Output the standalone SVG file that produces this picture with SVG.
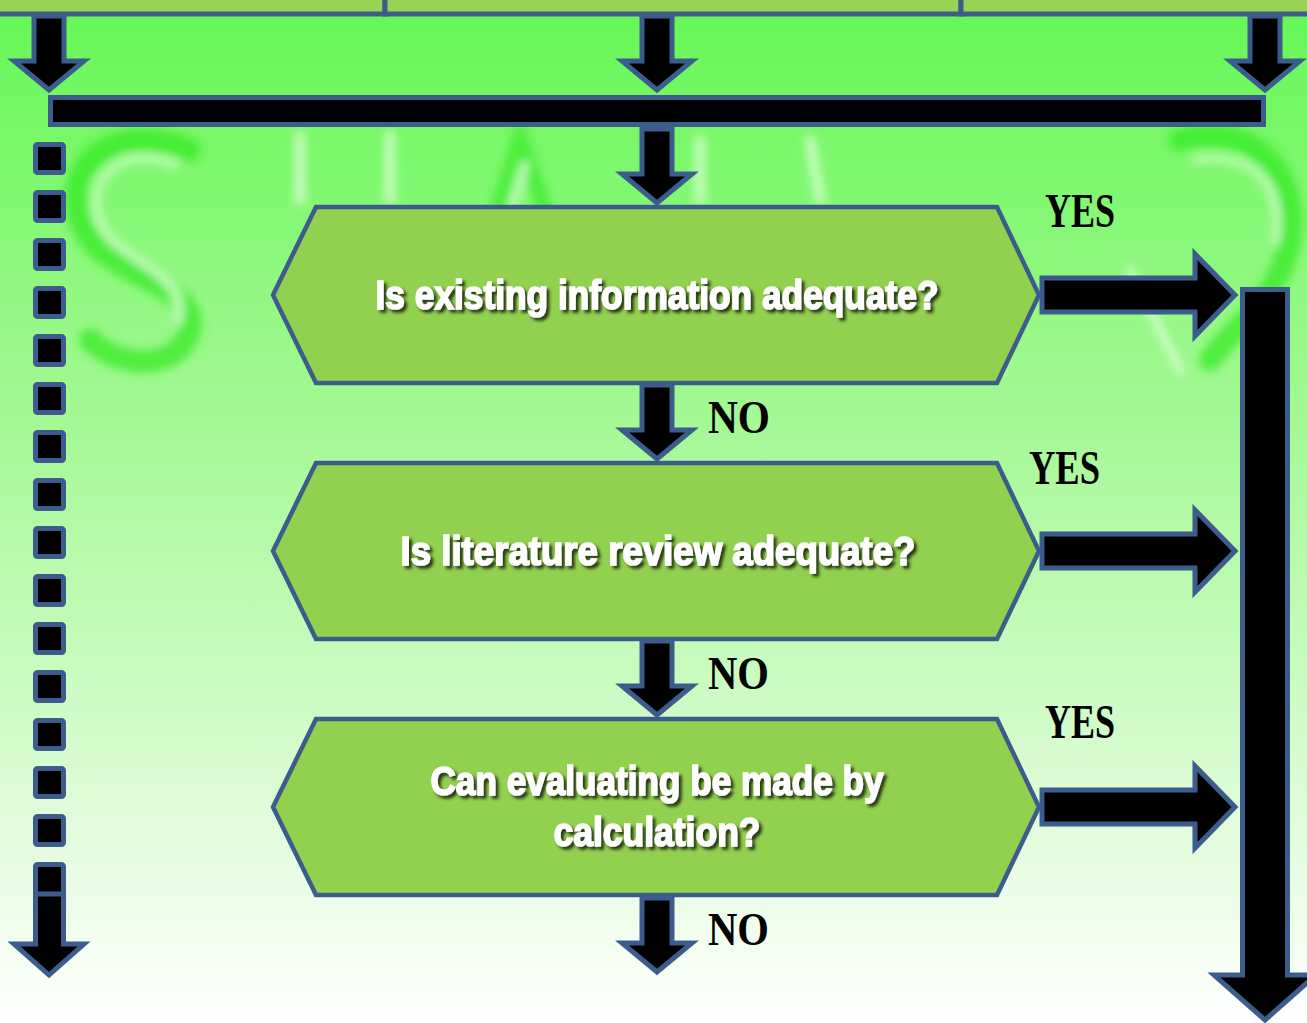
<svg xmlns="http://www.w3.org/2000/svg" width="1307" height="1023" viewBox="0 0 1307 1023">
  <defs>
    <linearGradient id="bg" x1="0" y1="0" x2="0" y2="1">
      <stop offset="0" stop-color="#64f754"/>
      <stop offset="0.38" stop-color="#a0f890"/>
      <stop offset="0.68" stop-color="#cdfbc4"/>
      <stop offset="0.9" stop-color="#f0fdec"/>
      <stop offset="1" stop-color="#ffffff"/>
    </linearGradient>
    <filter id="soft" x="-20%" y="-20%" width="140%" height="140%">
      <feGaussianBlur stdDeviation="5"/>
    </filter>
    <filter id="shadow" x="-10%" y="-30%" width="120%" height="160%">
      <feDropShadow dx="3" dy="3" stdDeviation="1.4" flood-color="#1e2a10" flood-opacity="0.9"/>
    </filter>
    <!-- down arrow, tip at origin -->
    <path id="down" d="M-15,-76 H15 V-31 H35 L0,-2 L-35,-31 H-15 Z"/>
    <!-- right arrow, tip at origin -->
    <path id="right" d="M-194,-17 H-41 V-41 L-1,0 L-41,41 V17 H-194 Z"/>
  </defs>
  <style>
    .arrow { fill: #000; stroke: #3c5d8c; stroke-width: 5; stroke-linejoin: miter; }
    .dash { fill: #000; stroke: #3c5d8c; stroke-width: 5; stroke-linejoin: round; }
    .box { fill: #92d050; stroke: #3c5d8c; stroke-width: 4.5; }
    .top { fill: #9bd154; stroke: #3c5d8c; stroke-width: 5; }
    .q { font-family: "Liberation Sans", Arial, sans-serif; font-weight: bold; font-size: 40px; fill: #ffffff; stroke: #ffffff; stroke-width: 1.6; paint-order: stroke; text-anchor: middle; filter: url(#shadow); }
    .yes { font-family: "Liberation Serif", "DejaVu Serif", serif; font-weight: bold; font-size: 48px; fill: #000; }
    .no { font-family: "Liberation Serif", "DejaVu Serif", serif; font-weight: bold; font-size: 46px; fill: #000; }
  </style>

  <!-- page background -->
  <rect x="0" y="0" width="1307" height="1023" fill="url(#bg)"/>

  <!-- glossy background swooshes -->
  <g filter="url(#soft)" fill="none" stroke-linecap="round" opacity="0.7">
    <path d="M190,150 C120,120 60,160 80,220 C100,280 200,280 190,330 C180,370 120,370 90,340" stroke="#2fe81e" stroke-width="22"/>
    <path d="M175,165 C125,145 85,175 100,220 C115,262 190,270 178,320" stroke="#e6ffe0" stroke-width="7"/>
    <path d="M300,135 L300,200 M390,135 L390,200" stroke="#e8ffe4" stroke-width="10"/>
    <path d="M450,360 L520,140 L600,360" stroke="#38ea28" stroke-width="16"/>
    <path d="M470,350 L525,165" stroke="#f0fff0" stroke-width="6"/>
    <path d="M700,140 L700,200 M810,140 L820,200" stroke="#e8ffe4" stroke-width="10"/>
    <path d="M1180,140 C1250,120 1300,170 1290,240 C1280,300 1230,330 1210,360" stroke="#2fe81e" stroke-width="22"/>
    <path d="M1195,160 C1255,150 1285,190 1275,240" stroke="#e6ffe0" stroke-width="7"/>
    <path d="M1000,280 L1000,370 M1130,270 L1180,370" stroke="#e8ffe4" stroke-width="8"/>
  </g>

  <!-- boxes of the previous row, cut by the top edge -->
  <g id="top-boxes">
    <rect class="top" x="-5" y="-20" width="390" height="34"/>
    <rect class="top" x="385" y="-20" width="576" height="34"/>
    <rect class="top" x="961" y="-20" width="360" height="34"/>
  </g>

  <!-- connectors -->
  <g id="connectors">
    <use href="#down" class="arrow" transform="translate(49,92)"/>
    <use href="#down" class="arrow" transform="translate(657,92)"/>
    <use href="#down" class="arrow" transform="translate(1265,92)"/>
    <rect class="arrow" x="50.5" y="97.5" width="1213" height="27"/>
    <use href="#down" class="arrow" transform="translate(657,205)"/>
    <use href="#down" class="arrow" transform="translate(657,461)"/>
    <use href="#down" class="arrow" transform="translate(657,717)"/>
    <use href="#down" class="arrow" transform="translate(657,974)"/>
    <use href="#right" class="arrow" transform="translate(1236,295)"/>
    <use href="#right" class="arrow" transform="translate(1236,551)"/>
    <use href="#right" class="arrow" transform="translate(1236,807)"/>
    <path class="arrow" d="M1242.5,289.5 H1287.5 V975 H1316 L1265,1020 L1214,975 H1242.5 Z"/>
    <!-- dashed bypass arrow on the left -->
    <g id="dashed-bypass">
      <rect class="dash" x="35.5" y="144.5" width="28" height="28" rx="2"/>
      <rect class="dash" x="35.5" y="192.5" width="28" height="28" rx="2"/>
      <rect class="dash" x="35.5" y="240.5" width="28" height="28" rx="2"/>
      <rect class="dash" x="35.5" y="288.5" width="28" height="28" rx="2"/>
      <rect class="dash" x="35.5" y="336.5" width="28" height="28" rx="2"/>
      <rect class="dash" x="35.5" y="384.5" width="28" height="28" rx="2"/>
      <rect class="dash" x="35.5" y="432.5" width="28" height="28" rx="2"/>
      <rect class="dash" x="35.5" y="480.5" width="28" height="28" rx="2"/>
      <rect class="dash" x="35.5" y="528.5" width="28" height="28" rx="2"/>
      <rect class="dash" x="35.5" y="576.5" width="28" height="28" rx="2"/>
      <rect class="dash" x="35.5" y="624.5" width="28" height="28" rx="2"/>
      <rect class="dash" x="35.5" y="672.5" width="28" height="28" rx="2"/>
      <rect class="dash" x="35.5" y="720.5" width="28" height="28" rx="2"/>
      <rect class="dash" x="35.5" y="768.5" width="28" height="28" rx="2"/>
      <rect class="dash" x="35.5" y="816.5" width="28" height="28" rx="2"/>
      <rect class="dash" x="35.5" y="864.5" width="28" height="30" rx="2"/>
      <path class="arrow" d="M35.5,894 H63.5 V944 H84 L49,975 L14,944 H35.5 Z"/>
    </g>
  </g>

  <!-- decision nodes -->
  <g id="node-existing-info">
    <polygon class="box" points="316,207 997,207 1039,295 997,383 316,383 273,295"/>
    <text class="q" x="657" y="309" textLength="563" lengthAdjust="spacingAndGlyphs">Is existing information adequate?</text>
  </g>
  <g id="node-literature">
    <polygon class="box" points="316,463 997,463 1039,551 997,639 316,639 273,551"/>
    <text class="q" x="658" y="565" textLength="515" lengthAdjust="spacingAndGlyphs">Is literature review adequate?</text>
  </g>
  <g id="node-calculation">
    <polygon class="box" points="316,719 997,719 1039,807 997,895 316,895 273,807"/>
    <text class="q" x="657" y="795" textLength="453" lengthAdjust="spacingAndGlyphs">Can evaluating be made by</text>
    <text class="q" x="657" y="846" textLength="207" lengthAdjust="spacingAndGlyphs">calculation?</text>
  </g>

  <!-- branch labels -->
  <g id="labels">
    <text class="yes" x="1045" y="227" textLength="70" lengthAdjust="spacingAndGlyphs">YES</text>
    <text class="yes" x="1029" y="484" textLength="71" lengthAdjust="spacingAndGlyphs">YES</text>
    <text class="yes" x="1045" y="738" textLength="70" lengthAdjust="spacingAndGlyphs">YES</text>
    <text class="no" x="708" y="433" textLength="62" lengthAdjust="spacingAndGlyphs">NO</text>
    <text class="no" x="708" y="689" textLength="61" lengthAdjust="spacingAndGlyphs">NO</text>
    <text class="no" x="708" y="945" textLength="61" lengthAdjust="spacingAndGlyphs">NO</text>
  </g>
</svg>
